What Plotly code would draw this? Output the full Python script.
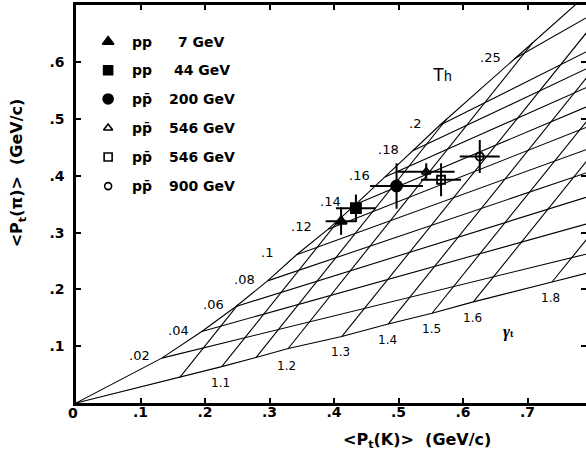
import plotly.graph_objects as go

# ---------------- data ----------------
beams = ["pp", "pp", "pp\u0304", "pp\u0304", "pp\u0304", "pp\u0304"]
energies = ["7 GeV", "44 GeV", "200 GeV", "546 GeV", "546 GeV", "900 GeV"]
pt_K = [0.411, 0.434, 0.497, 0.543, 0.566, 0.626]
pt_pi = [0.320, 0.343, 0.382, 0.407, 0.393, 0.434]
err_K = [0.024, 0.031, 0.041, 0.044, 0.031, 0.031]
err_pi = [0.024, 0.024, 0.040, 0.015, 0.029, 0.029]

# temperature grid lines (Th): start node on the upper boundary, end value at the right edge
T_labels = [".02", ".04", ".06", ".08", ".1", ".12", ".14", ".16", ".18", ".2", ".25"]
T_node_x = [0.133, 0.195, 0.248, 0.297, 0.342, 0.391, 0.434, 0.479, 0.522, 0.564, 0.681]
T_node_y = [0.079, 0.126, 0.170, 0.215, 0.261, 0.306, 0.350, 0.398, 0.444, 0.489, 0.607]
T_edge_y = [0.262, 0.315, 0.362, 0.405, 0.446, 0.485, 0.521, 0.555, 0.588, 0.618, 0.678]

# flow grid lines (gamma_t): start node on the lower boundary + slope
G_values = [1.05, 1.1, 1.15, 1.2, 1.3, 1.4, 1.5, 1.6, 1.8]
G_node_x = [0.161, 0.226, 0.279, 0.329, 0.412, 0.484, 0.552, 0.616, 0.738]
G_node_y = [0.045, 0.064, 0.080, 0.096, 0.117, 0.139, 0.158, 0.178, 0.213]
G_slope = [1.42, 1.42, 1.42, 1.42, 1.41, 1.41, 1.41, 1.41, 1.40]

G_labels = ["1.1", "1.2", "1.3", "1.4", "1.5", "1.6", "1.8"]

x_ticks = [0.1, 0.2, 0.3, 0.4, 0.5, 0.6, 0.7]
x_ticktext = [".1", ".2", ".3", ".4", ".5", ".6", ".7"]
y_ticks = [0.1, 0.2, 0.3, 0.4, 0.5, 0.6]
y_ticktext = [".1", ".2", ".3", ".4", ".5", ".6"]

XMAX = 0.7907
YMAX = 0.7007

# ---------------- helpers ----------------
def intersect(p, d, a, b):
    ex, ey = b[0] - a[0], b[1] - a[1]
    den = d[0] * ey - d[1] * ex
    if abs(den) < 1e-12:
        return None
    qx, qy = a[0] - p[0], a[1] - p[1]
    t = (qx * ey - qy * ex) / den
    u = (qx * d[1] - qy * d[0]) / den
    if -1e-9 <= u <= 1 + 1e-9 and t > 1e-6:
        return t
    return None


def extend(pts, far=1.5):
    (x1, y1), (x2, y2) = pts[-2], pts[-1]
    k = far / max(x2 - x1, 1e-9)
    return pts + [(x2 + (x2 - x1) * k, y2 + (y2 - y1) * k)]


upper = extend([(0.0, 0.0)] + list(zip(T_node_x, T_node_y)))
lower = extend([(0.0, 0.0)] + list(zip(G_node_x, G_node_y)))


def clipped_line(p, s, boundary):
    d = (1.0, s)
    best = 2.0
    for a, b in zip(boundary[:-1], boundary[1:]):
        t = intersect(p, d, a, b)
        if t is not None and t < best:
            best = t
    return [p[0], p[0] + best * d[0]], [p[1], p[1] + best * d[1]]


fig = go.Figure()
LINE = dict(color="black", width=1.1)

fig.add_trace(go.Scatter(x=[q[0] for q in upper], y=[q[1] for q in upper], mode="lines",
                         line=LINE, showlegend=False, hoverinfo="skip"))
fig.add_trace(go.Scatter(x=[q[0] for q in lower], y=[q[1] for q in lower], mode="lines",
                         line=LINE, showlegend=False, hoverinfo="skip"))

for xs, ys, ye in zip(T_node_x, T_node_y, T_edge_y):
    fig.add_trace(go.Scatter(x=[xs, XMAX], y=[ys, ye], mode="lines", line=LINE,
                             showlegend=False, hoverinfo="skip"))

for xs, ys, s in zip(G_node_x, G_node_y, G_slope):
    lx, ly = clipped_line((xs, ys), s, upper)
    fig.add_trace(go.Scatter(x=lx, y=ly, mode="lines", line=LINE, showlegend=False, hoverinfo="skip"))

symbols = ["triangle-up", "square", "circle", "triangle-up-open", "square-open", "circle-open"]
sizes = [10, 10, 11, 8, 8, 8]
for i in range(len(pt_K)):
    fig.add_trace(go.Scatter(
        x=[pt_K[i]], y=[pt_pi[i]], mode="markers", name=beams[i] + " " + energies[i], showlegend=False,
        marker=dict(symbol=symbols[i], size=sizes[i], color="black", line=dict(color="black", width=1.8)),
        error_x=dict(type="constant", value=err_K[i], color="black", thickness=2, width=0),
        error_y=dict(type="constant", value=err_pi[i], color="black", thickness=2, width=0),
    ))

# legend markers on an overlay unit axis
leg_y = [0.908, 0.836, 0.764, 0.691, 0.618, 0.545]
leg_sizes = [10, 9, 10, 8, 8, 7]
for i in range(len(energies)):
    fig.add_trace(go.Scatter(
        x=[0.063], y=[leg_y[i]], xaxis="x2", yaxis="y2", mode="markers", showlegend=False,
        marker=dict(symbol=symbols[i], size=leg_sizes[i], color="black", line=dict(color="black", width=1.6)),
        hoverinfo="skip"))

FONT = "DejaVu Sans, Verdana, sans-serif"
BOLD = dict(family=FONT, size=14, color="black", weight="bold")
ann = []
for i in range(len(energies)):
    ann.append(dict(xref="paper", yref="paper", x=0.106, y=leg_y[i], text=beams[i], showarrow=False,
                    xanchor="left", yanchor="middle", font=BOLD))
    ann.append(dict(xref="paper", yref="paper", x=0.247, y=leg_y[i], text=energies[i], showarrow=False,
                    xanchor="center", yanchor="middle", font=BOLD))

T_lab_x = [0.098, 0.159, 0.213, 0.2605, 0.2966, 0.350, 0.395, 0.440, 0.484, 0.5256, 0.643]
T_lab_y = [0.083, 0.1285, 0.174, 0.218, 0.265, 0.310, 0.354, 0.401, 0.447, 0.492, 0.609]
TLAB = dict(family=FONT, size=13, color="black")
GLAB = dict(family=FONT, size=12, color="black")
for t, x, y in zip(T_labels, T_lab_x, T_lab_y):
    ann.append(dict(x=x, y=y, text=t, showarrow=False, xanchor="center", yanchor="middle", font=TLAB))
G_lab_x = [0.2233, 0.3267, 0.4093, 0.4826, 0.5504, 0.615, 0.736]
G_lab_y = [0.0357, 0.0657, 0.0893, 0.1109, 0.1303, 0.1491, 0.1843]
for t, x, y in zip(G_labels, G_lab_x, G_lab_y):
    ann.append(dict(x=x, y=y, text=t, showarrow=False, xanchor="center", yanchor="middle", font=GLAB))
ann.append(dict(x=0.568, y=0.5775, text="T<span style='font-size:14px'>h</span>", showarrow=False,
                font=dict(family="Liberation Sans, Arial", size=18, color="black")))
ann.append(dict(x=0.670, y=0.1255, text="<i><b>\u03b3</b></i><span style='font-size:10px'><b>t</b></span>",
                showarrow=False, font=dict(family="Liberation Serif, serif", size=17, color="black")))
ann.append(dict(xref="paper", yref="paper", x=-0.0065, y=-0.025, text="0", showarrow=False,
                xanchor="center", yanchor="middle", font=BOLD))
TITLE = dict(family=FONT, size=16, color="black", weight="bold")
ann.append(dict(xref="paper", yref="paper", x=0.669, y=-0.094,
                text="&lt;P<sub>t</sub>(K)&gt;  (GeV/c)", showarrow=False,
                xanchor="center", yanchor="middle", font=TITLE))
ann.append(dict(xref="paper", yref="paper", x=-0.113, y=0.578, textangle=-90,
                text="&lt;P<sub>t</sub>(\u03c0)&gt;  (GeV/c)", showarrow=False,
                xanchor="center", yanchor="middle", font=TITLE))

fig.update_layout(
    width=586, height=455,
    margin=dict(l=76, r=0, t=5, b=52),
    paper_bgcolor="white", plot_bgcolor="white",
    showlegend=False,
    xaxis=dict(range=[0, XMAX], tickvals=x_ticks, ticktext=x_ticktext, ticks="inside", ticklen=5,
               tickwidth=1.5, tickcolor="black", showline=True, linecolor="black", linewidth=2.5,
               mirror="ticks", showgrid=False, zeroline=False, tickfont=BOLD, ticklabelstandoff=-6),
    yaxis=dict(range=[0, YMAX], tickvals=y_ticks, ticktext=y_ticktext, ticks="inside", ticklen=5,
               tickwidth=1.5, tickcolor="black", showline=True, linecolor="black", linewidth=2.5,
               mirror=False, showgrid=False, zeroline=False, tickfont=BOLD, ticklabelstandoff=6),
    yaxis3=dict(overlaying="y", side="right", matches="y", range=[0, YMAX], tickvals=y_ticks,
                ticks="inside", ticklen=5, tickwidth=1.5, tickcolor="black", showline=False,
                showticklabels=False, showgrid=False, zeroline=False),
    xaxis2=dict(overlaying="x", range=[0, 1], visible=False),
    yaxis2=dict(overlaying="y", range=[0, 1], visible=False),
    annotations=ann,
)
fig.add_trace(go.Scatter(x=[None], y=[None], yaxis="y3", showlegend=False, hoverinfo="skip"))

fig.write_html("out.html", config={"displayModeBar": False},
               post_script="document.body.style.margin='0';document.body.style.padding='0';")
